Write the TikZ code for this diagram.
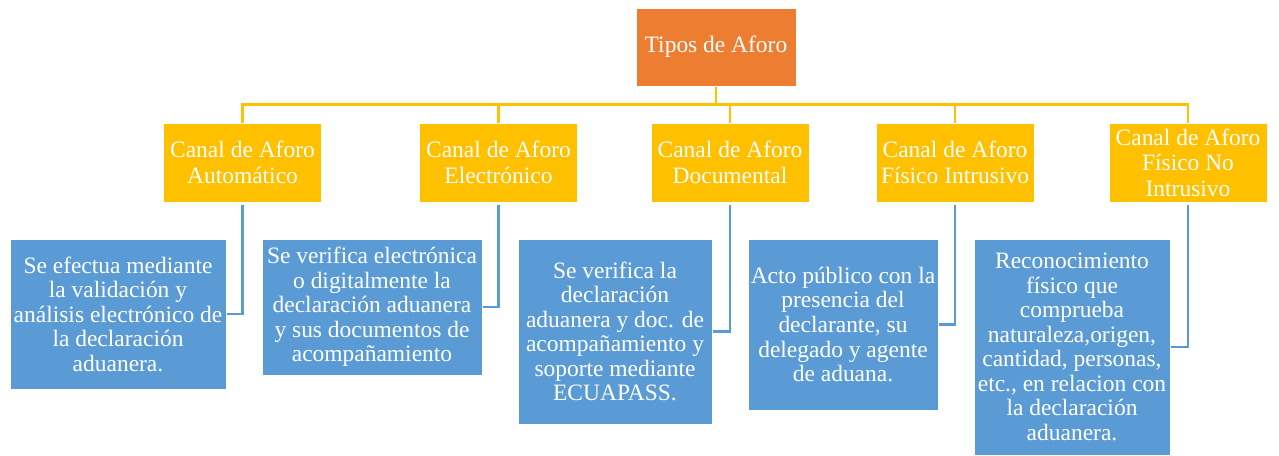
\documentclass[tikz,border=0pt]{standalone}
\usepackage{fontspec}
\setmainfont{Liberation Serif}

\definecolor{aforoorange}{RGB}{237,125,49}
\definecolor{aforoyellow}{RGB}{255,192,0}
\definecolor{aforoblue}{RGB}{91,155,213}

\tikzset{every picture/.style={line width=0.75pt}}
\tikzset{
  rootbox/.style={fill=aforoorange, draw=white, text=white, align=center, inner sep=0.75pt,
    minimum width=120pt, minimum height=58.5pt, font=\fontsize{17.6}{18.8}\selectfont},
  canalbox/.style={fill=aforoyellow, draw=white, text=white, align=center, inner sep=0.75pt,
    minimum width=118.5pt, minimum height=59.25pt, font=\fontsize{17.6}{19.2}\selectfont},
  descbox/.style={fill=aforoblue, draw=white, text=white, align=center, inner sep=0.75pt,
    font=\fontsize{17.6}{18.4}\selectfont},
  yelline/.style={draw=aforoyellow, line width=2pt},
  bluline/.style={draw=aforoblue, line width=2pt},
}

\begin{document}
\begin{tikzpicture}[x=0.75pt,y=0.75pt,yscale=-1,xscale=1]
    \useasboundingbox (0,0) rectangle (1279,455);

    %Shape: Rectangle [root]
    \node (root) at (716,47) [rootbox] {Tipos de Aforo};

    %Shape: Rectangle [canal row]
    \node (c1) at (242.5,162.5) [canalbox] {Canal de Aforo\\Automático};
    \node (c2) at (498.5,162.5) [canalbox] {Canal de Aforo\\Electrónico};
    \node (c3) at (730,162.5) [canalbox] {Canal de Aforo\\Documental};
    \node (c4) at (955,162.5) [canalbox] {Canal de Aforo\\Físico Intrusivo};
    \node (c5) at (1188,162.5) [canalbox] {Canal de Aforo\\Físico No\\Intrusivo};

    %Shape: Rectangle [description row]
    \node (d1) at (118,314) [descbox, minimum width=162pt, minimum height=112.5pt]
      {Se efectua mediante\\la validación y\\análisis electrónico de\\la declaración\\aduanera.};
    \node (d2) at (372,307) [descbox, minimum width=165pt, minimum height=102pt]
      {Se verifica electrónica\\o digitalmente la\\declaración aduanera\\y sus documentos de\\acompañamiento};
    \node (d3) at (615,331.5) [descbox, minimum width=145.5pt, minimum height=138.75pt]
      {Se verifica la\\declaración\\aduanera y doc. de\\acompañamiento y\\soporte mediante\\ECUAPASS.};
    \node (d4) at (843,324.5) [descbox, minimum width=142.5pt, minimum height=128.25pt]
      {Acto público con la\\presencia del\\declarante, su\\delegado y agente\\de aduana.};
    \node (d5) at (1072,347) [descbox, minimum width=147pt, minimum height=162pt]
      {Reconocimiento\\físico que\\comprueba\\naturaleza,origen,\\cantidad, personas,\\etc., en relacion con\\la declaración\\aduanera.};

    %Straight Lines [root to canal]
    \foreach \c in {c1,c2,c3,c4,c5}
      \draw [yelline] (root.south) -- ++(0,18) -| (\c.north);

    %Straight Lines [canal to description]
    \foreach \i in {1,...,5}
      \draw [bluline] (c\i.south) ++(0,2) |- (d\i.east);
\end{tikzpicture}
\end{document}
